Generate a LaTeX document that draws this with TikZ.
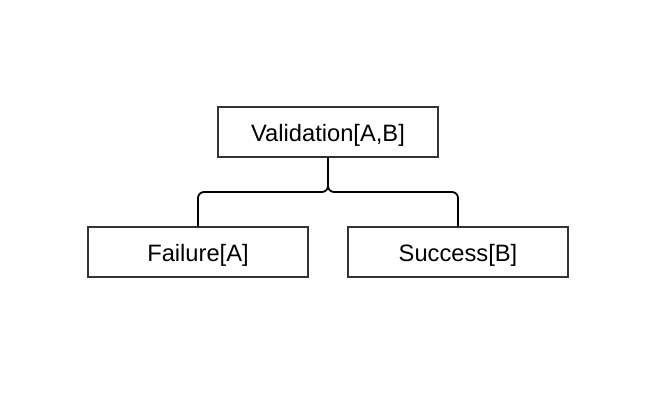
\documentclass[tikz,border=0pt]{standalone}
\usepackage{fontspec}
\setmainfont{Liberation Sans}
\begin{document}
\begin{tikzpicture}[x=1pt,y=-1pt,
  box/.style={draw=black!80,line width=1.3pt,minimum width=220pt,minimum height=50pt,inner sep=0pt,font=\fontsize{23.7}{28}\selectfont,text=black,text height=19pt,text depth=0pt},
  conn/.style={draw=black,line width=1.8pt,rounded corners=6pt}]
\useasboundingbox (0,0) rectangle (648,405);
\node[box] (v) at (328,132) {Validation[A,B]};
\node[box] (f) at (198,252) {Failure[A]};
\node[box] (s) at (458,252) {Success[B]};
\coordinate (j) at (328,192);
\draw[conn] (v.south) -- (j) -| (f.north);
\draw[conn] (v.south) -- (j) -| (s.north);
\end{tikzpicture}
\end{document}
